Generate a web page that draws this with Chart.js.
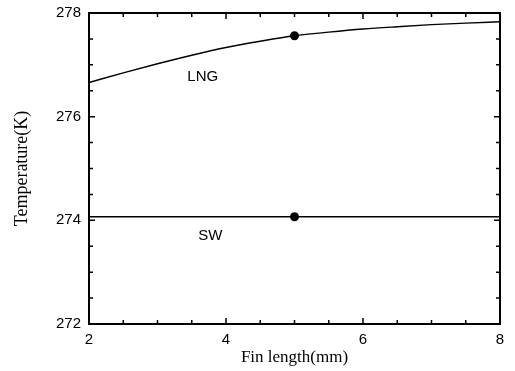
<!DOCTYPE html>
<html>
<head>
<meta charset="utf-8">
<script src="https://cdn.jsdelivr.net/npm/chart.js@4.4.0/dist/chart.umd.min.js"></script>
<style>
html,body{margin:0;padding:0;background:#fff;}
#wrap{width:515px;height:371px;position:relative;}
</style>
</head>
<body>
<div id="wrap"><canvas id="c" width="515" height="371"></canvas></div>
<script>
// Data
const finLength = [2, 2.5, 3, 3.5, 4, 4.5, 5, 5.5, 6, 6.5, 7, 7.5, 8];
const lngTemp = [276.66, 276.845, 277.02, 277.185, 277.335, 277.455, 277.56, 277.63, 277.69, 277.735, 277.775, 277.805, 277.83];
const swTemp  = [274.07, 274.07, 274.07, 274.07, 274.07, 274.07, 274.07, 274.07, 274.07, 274.07, 274.07, 274.07, 274.07];
const markerX = [5, 5];
const markerY = [277.56, 274.07];
const seriesNames = ["LNG", "SW"];
const xTickLabels = [2, 4, 6, 8];
const yTickLabels = [272, 274, 276, 278];

const lineData = (ys) => finLength.map((x, i) => ({x: x, y: ys[i]}));

const tickPlugin = {
  id: 'inwardTicks',
  afterDraw(chart) {
    const ctx = chart.ctx;
    const a = chart.chartArea;
    const xs = chart.scales.x, ys = chart.scales.y;
    ctx.save();
    ctx.strokeStyle = '#000';
    ctx.lineWidth = 1.5;
    for (let v = 2; v <= 8.001; v += 0.5) {
      const px = xs.getPixelForValue(v);
      const len = xTickLabels.includes(v) ? 6 : 4;
      ctx.beginPath();
      ctx.moveTo(px, a.bottom); ctx.lineTo(px, a.bottom - len);
      ctx.moveTo(px, a.top); ctx.lineTo(px, a.top + len);
      ctx.stroke();
    }
    for (let v = 272; v <= 278.001; v += 0.5) {
      const py = ys.getPixelForValue(v);
      const len = yTickLabels.includes(v) ? 6 : 4;
      ctx.beginPath();
      ctx.moveTo(a.left, py); ctx.lineTo(a.left + len, py);
      ctx.moveTo(a.right, py); ctx.lineTo(a.right - len, py);
      ctx.stroke();
    }
    // frame
    ctx.lineWidth = 2;
    ctx.strokeRect(a.left, a.top, a.right - a.left, a.bottom - a.top);
    // series labels
    ctx.fillStyle = '#000';
    ctx.font = '15px "Liberation Sans", Arial, sans-serif';
    ctx.textAlign = 'center';
    ctx.textBaseline = 'middle';
    ctx.fillText(seriesNames[0], xs.getPixelForValue(3.66), ys.getPixelForValue(276.76));
    ctx.fillText(seriesNames[1], xs.getPixelForValue(3.77), ys.getPixelForValue(273.70));
    ctx.restore();
  }
};

new Chart(document.getElementById('c'), {
  type: 'scatter',
  data: {
    datasets: [
      {label: seriesNames[0], data: lineData(lngTemp), showLine: true, borderColor: '#000', borderWidth: 1.4, pointRadius: 0, cubicInterpolationMode: 'monotone', fill: false},
      {label: seriesNames[1], data: lineData(swTemp), showLine: true, borderColor: '#000', borderWidth: 1.4, pointRadius: 0, fill: false},
      {label: 'points', data: markerX.map((x, i) => ({x: x, y: markerY[i]})), showLine: false, pointRadius: 4.5, pointBackgroundColor: '#000', pointBorderColor: '#000', pointBorderWidth: 0}
    ]
  },
  options: {
    responsive: false,
    animation: false,
    devicePixelRatio: 1,
    layout: {padding: {top: 13, right: 15, left: 0, bottom: 0}},
    plugins: {legend: {display: false}, tooltip: {enabled: false}},
    scales: {
      x: {
        type: 'linear', min: 2, max: 8,
        afterBuildTicks: (s) => { s.ticks = xTickLabels.map(v => ({value: v})); },
        afterFit: (s) => { s.height = 47; s.paddingLeft = 0; s.paddingRight = 0; },
        grid: {display: false, drawTicks: false},
        border: {display: false},
        ticks: {color: '#000', padding: 7, font: {family: '"Liberation Sans", Arial, sans-serif', size: 15}, maxRotation: 0},
        title: {display: true, text: 'Fin length(mm)', color: '#000', font: {family: '"Liberation Serif", "Times New Roman", serif', size: 17}, padding: {top: 2, bottom: 3}}
      },
      y: {
        type: 'linear', min: 272, max: 278,
        afterBuildTicks: (s) => { s.ticks = yTickLabels.map(v => ({value: v})); },
        afterFit: (s) => { s.width = 89; s.paddingTop = 0; s.paddingBottom = 0; },
        grid: {display: false, drawTicks: false},
        border: {display: false},
        ticks: {color: '#000', padding: 8, font: {family: '"Liberation Sans", Arial, sans-serif', size: 15}},
        title: {display: true, text: 'Temperature(K)', color: '#000', font: {family: '"Liberation Serif", "Times New Roman", serif', size: 18}, padding: {top: 11, bottom: 0}}
      }
    }
  },
  plugins: [tickPlugin]
});
</script>
</body>
</html>
